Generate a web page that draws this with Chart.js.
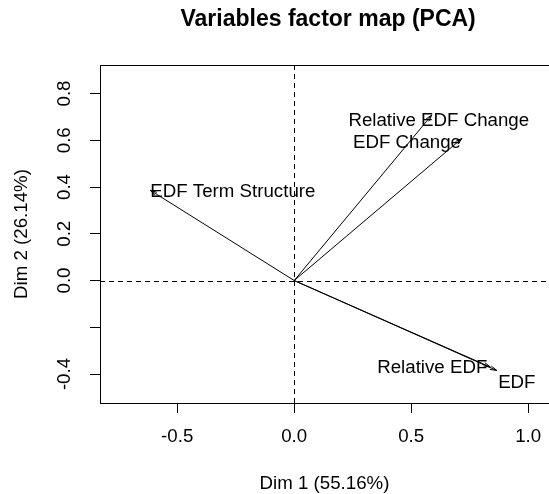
<!DOCTYPE html>
<html>
<head>
<meta charset="utf-8">
<script src="https://cdn.jsdelivr.net/npm/chart.js@4.4.1/dist/chart.umd.min.js"></script>
<style>
  html, body { margin: 0; padding: 0; background: #fff; overflow: hidden; }
  canvas { display: block; }
</style>
</head>
<body>
<canvas id="pca" width="549" height="494"></canvas>
<script>
// variable coordinates on the first two dimensions
const variables = ['EDF Term Structure', 'Relative EDF Change', 'EDF Change', 'Relative EDF', 'EDF'];
const dim1 = [-0.615, 0.588, 0.717, 0.838, 0.866];
const dim2 = [0.386, 0.708, 0.608, -0.370, -0.385];

const xTicks = [-0.5, 0.0, 0.5, 1.0];
const yTicks = [-0.4, -0.2, 0.0, 0.2, 0.4, 0.6, 0.8];
const yHidden = [-0.2]; // R drops this label
const xFull = [-0.83, 1.12]; // full plot range, right part is cropped off

// label placement relative to arrow tip (pixels) - autoLab style nudges
const labelOffsets = [[0, 2, 'left'], [7, 6, 'center'], [-55, 4, 'center'], [-58, 1, 'center'], [20, 12, 'center']];

const FONT = '"Liberation Sans", Arial, sans-serif';
const TEXT_SIZE = 18.7;
Chart.defaults.font.family = FONT;
Chart.defaults.font.size = TEXT_SIZE;
Chart.defaults.color = '#000';

const datasets = variables.map((name, i) => ({
  label: name,
  data: [{x: 0, y: 0}, {x: dim1[i], y: dim2[i]}],
  borderColor: '#000',
  borderWidth: 1,
  pointRadius: 0,
  showLine: true,
  fill: false
}));

// title, box, dashed zero lines, arrowheads and variable labels
const decorations = {
  id: 'decorations',
  beforeDatasetsDraw(chart) {
    const {ctx, chartArea: a, scales: {x, y}} = chart;
    ctx.save();
    ctx.strokeStyle = '#000';
    ctx.lineWidth = 1;
    ctx.setLineDash([5, 4]);
    const x0 = Math.round(x.getPixelForValue(0)) + 0.5;
    const y0 = Math.round(y.getPixelForValue(0)) + 0.5;
    ctx.beginPath();
    ctx.moveTo(x0, a.top); ctx.lineTo(x0, a.bottom);
    ctx.moveTo(a.left, y0); ctx.lineTo(a.right, y0);
    ctx.stroke();
    ctx.setLineDash([]);
    const t = Math.round(a.top) + 0.5;
    ctx.beginPath();
    ctx.moveTo(a.left, t); ctx.lineTo(a.right, t);
    ctx.stroke();

    const cx = (x.getPixelForValue(xFull[0]) + x.getPixelForValue(xFull[1])) / 2;
    ctx.fillStyle = '#000';
    ctx.font = 'bold 23px ' + FONT;
    ctx.textAlign = 'center';
    ctx.textBaseline = 'middle';
    ctx.fillText('Variables factor map (PCA)', cx, 20);
    ctx.restore();
  },
  afterDatasetsDraw(chart) {
    const {ctx, scales: {x, y}} = chart;
    const ox = x.getPixelForValue(0), oy = y.getPixelForValue(0);
    ctx.save();
    ctx.strokeStyle = '#000';
    ctx.lineWidth = 1;
    variables.forEach((name, i) => {
      const px = x.getPixelForValue(dim1[i]);
      const py = y.getPixelForValue(dim2[i]);
      const ang = Math.atan2(py - oy, px - ox);
      const len = 7, spread = Math.PI / 12;
      ctx.beginPath();
      ctx.moveTo(px - len * Math.cos(ang - spread), py - len * Math.sin(ang - spread));
      ctx.lineTo(px, py);
      ctx.lineTo(px - len * Math.cos(ang + spread), py - len * Math.sin(ang + spread));
      ctx.stroke();
      const [dx, dy, align] = labelOffsets[i];
      ctx.fillStyle = '#000';
      ctx.font = TEXT_SIZE + 'px ' + FONT;
      ctx.textAlign = align;
      ctx.textBaseline = 'middle';
      ctx.fillText(name, px + dx, py + dy);
    });
    ctx.restore();
  }
};

new Chart(document.getElementById('pca'), {
  type: 'scatter',
  data: { datasets },
  options: {
    responsive: false,
    animation: false,
    layout: { padding: { top: 65, right: 0, left: 0, bottom: 0 } },
    plugins: {
      legend: { display: false },
      tooltip: { enabled: false },
      title: { display: false }
    },
    scales: {
      x: {
        min: -0.83,
        max: 1.089,
        afterBuildTicks: s => { s.ticks = xTicks.map(v => ({ value: v })); },
        afterFit: s => { s.height = 91; s.paddingRight = 0; s.paddingLeft = 0; },
        grid: { drawOnChartArea: false, tickLength: 10, tickColor: '#000' },
        border: { color: '#000' },
        ticks: { padding: 13, color: '#000', callback: v => v.toFixed(1) },
        title: { display: true, text: 'Dim 1 (55.16%)', color: '#000', padding: { top: 0, bottom: -1 } }
      },
      y: {
        min: -0.524,
        max: 0.922,
        afterBuildTicks: s => { s.ticks = yTicks.map(v => ({ value: v })); },
        afterFit: s => { s.width = 100; s.paddingTop = 0; s.paddingBottom = 0; },
        grid: { drawOnChartArea: false, tickLength: 10, tickColor: '#000' },
        border: { color: '#000' },
        ticks: {
          padding: 9,
          minRotation: 90,
          maxRotation: 90,
          crossAlign: 'center',
          color: '#000',
          callback: v => yHidden.some(h => Math.abs(h - v) < 1e-9) ? '' : v.toFixed(1)
        },
        title: { display: true, text: 'Dim 2 (26.14%)', color: '#000', padding: { top: 11, bottom: 0 } }
      }
    }
  },
  plugins: [decorations]
});
</script>
</body>
</html>
